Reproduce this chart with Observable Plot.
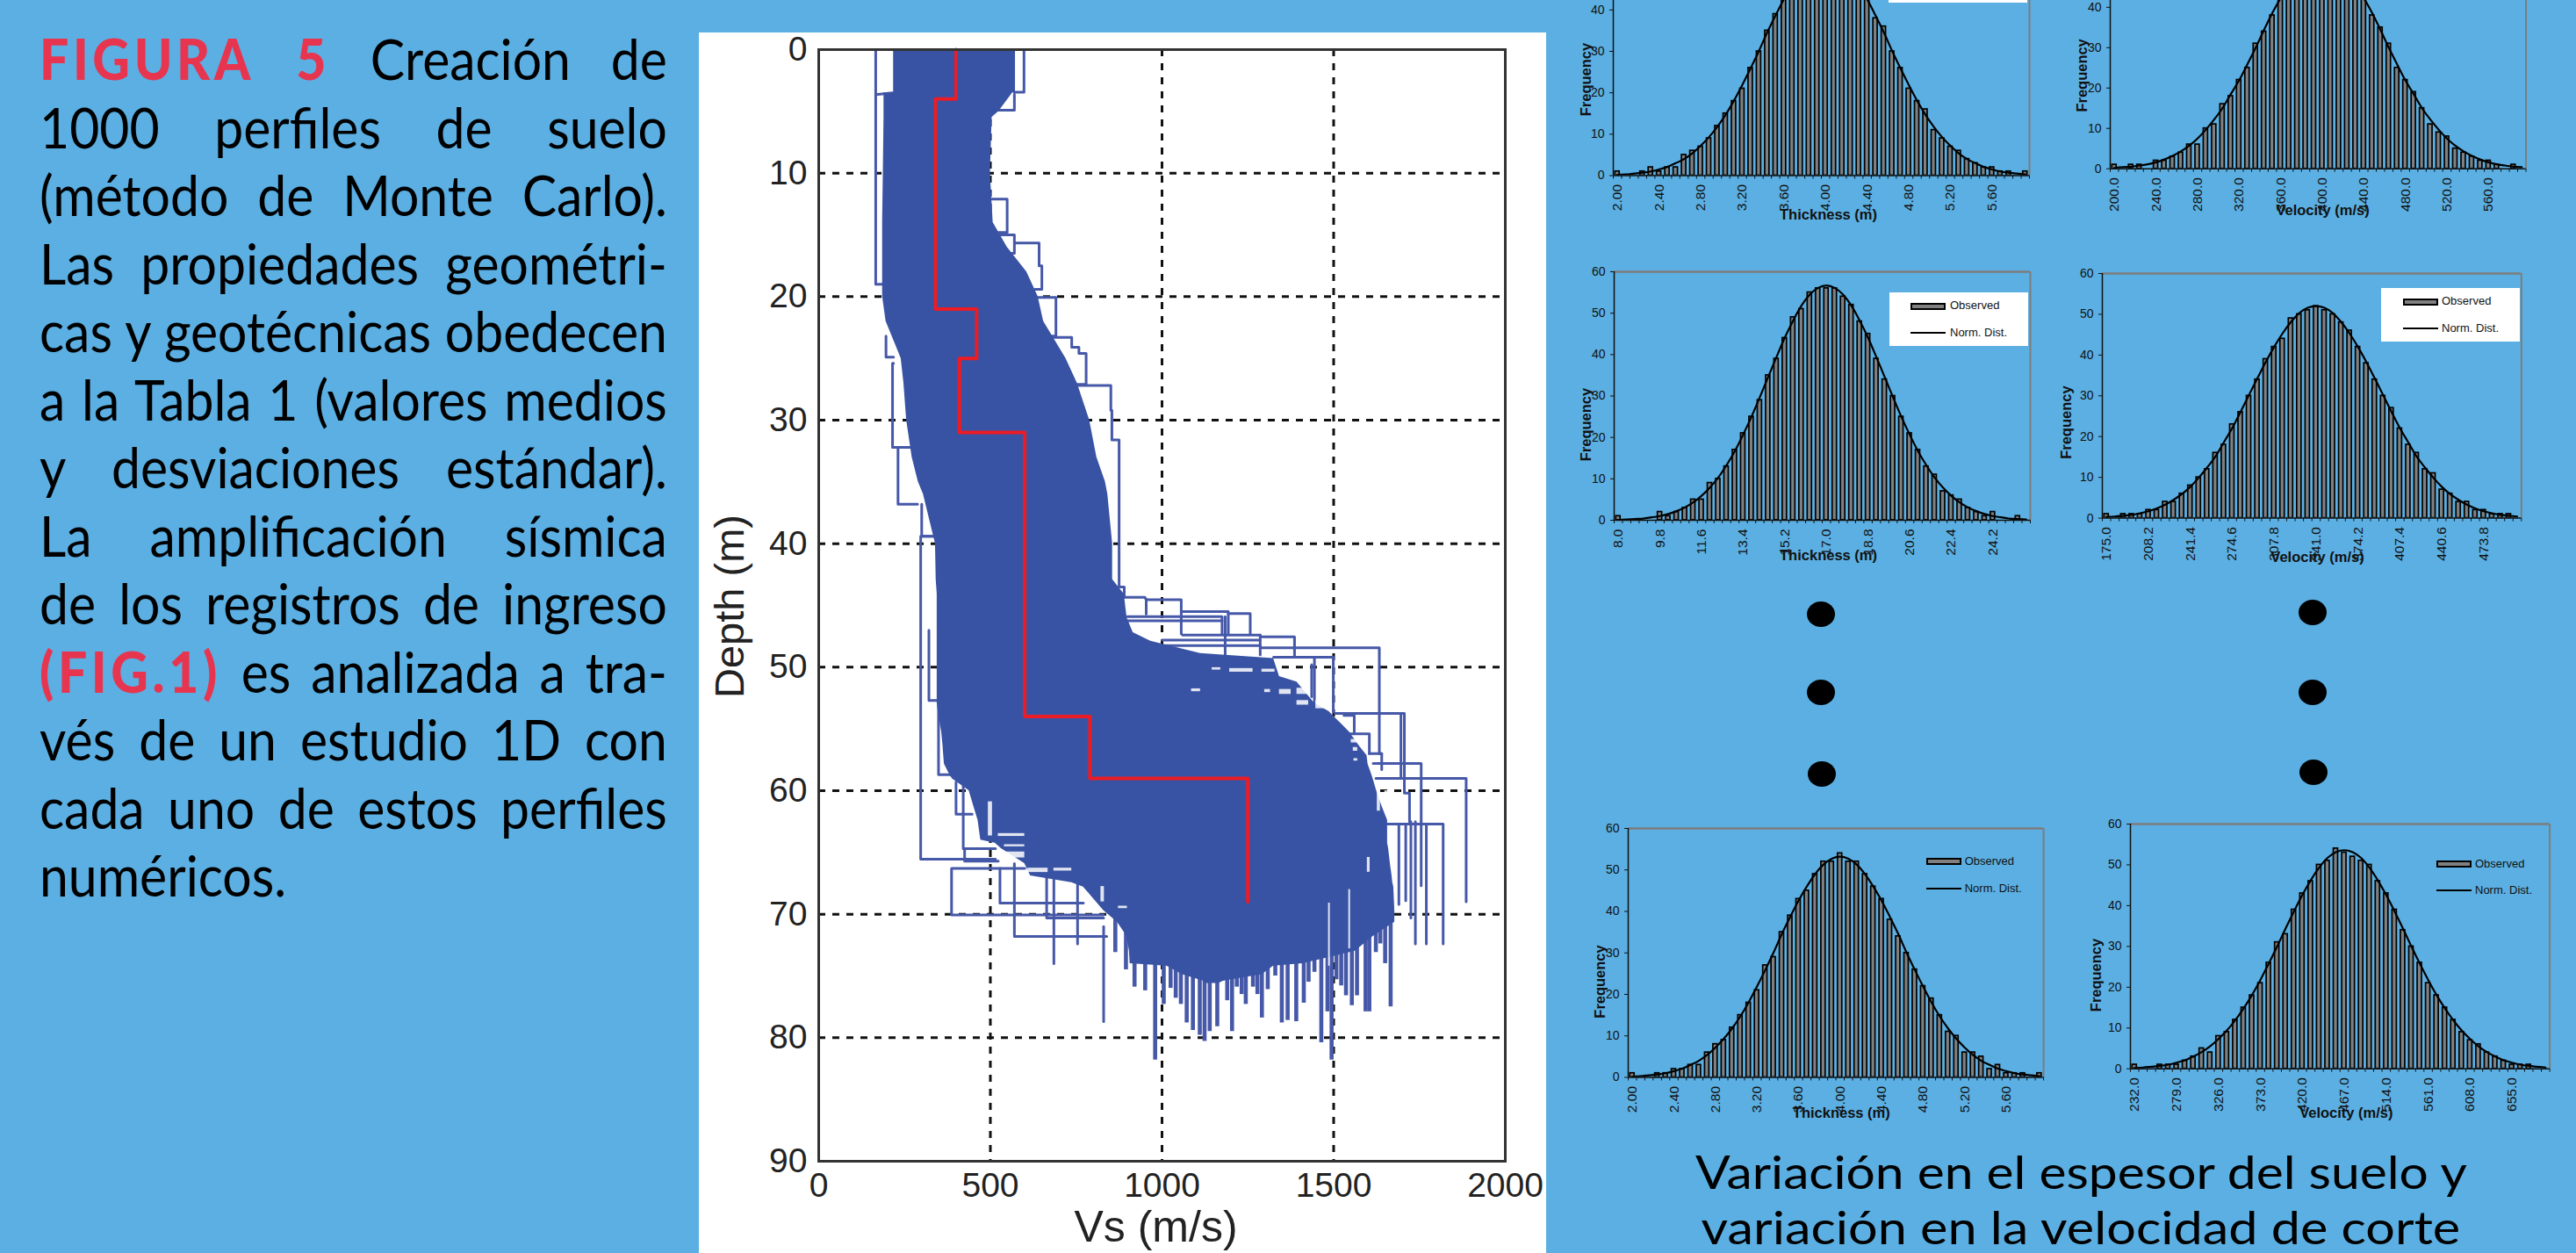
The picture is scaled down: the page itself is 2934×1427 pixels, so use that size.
<!DOCTYPE html>
<html lang="es"><head><meta charset="utf-8">
<script src="https://cdn.jsdelivr.net/npm/d3@7"></script>
<script src="https://cdn.jsdelivr.net/npm/@observablehq/plot@0.6"></script>
<style>
html,body{margin:0;padding:0;background:#5BAFE2;overflow:hidden}
#page{position:relative;width:2934px;height:1427px;background:#5BAFE2;overflow:hidden}
#page>*{position:absolute}
.ln{left:45px;width:777px;transform:scaleX(.92);transform-origin:0 0;font:64px/64px Lato,sans-serif;color:#000;white-space:nowrap;text-align:justify;text-align-last:justify}
.ln b{color:#E8354F;font-weight:900;letter-spacing:5px}
.ln.last{text-align-last:left}
.cap{left:1800px;width:1140px;text-align:center;font:53px/63px Lato,sans-serif;color:#000;white-space:nowrap}
.cap span{display:inline-block;transform-origin:50% 50%}
.dot{width:32px;height:29px;border-radius:50%;background:#000;margin:-15px 0 0 -16px}
.lgbox{background:#fff}
.sw{background:#808080;border:2px solid #000;box-sizing:border-box}
.nl{background:#000;height:2px}
.lt{font:13px/14px "Liberation Sans",Arial,sans-serif;color:#111;margin-top:-7px;white-space:nowrap}
</style></head><body><div id="page"></div>
<script>
// ---- Left column text
const captionLines = [
 '<b>FIGURA 5</b> Creación de','1000 perfiles de suelo','(método de Monte Carlo).','Las propiedades geométri-',
 'cas y geotécnicas obedecen','a la Tabla 1 (valores medios','y desviaciones estándar).','La amplificación sísmica',
 'de los registros de ingreso','<b>(FIG.1)</b> es analizada a tra-','vés de un estudio 1D con','cada uno de estos perfiles','numéricos.'];
const bottomCaption = ['Variación en el espesor del suelo y','variación en la velocidad de corte'];
const bottomCaptionWidth = [879,865];

// ---- Monte Carlo profile chart (Vs m/s vs depth m)
const envDepth = [0,3.5,3.5,5,5.5,10,14,16,18,20,22,25,27,30,33,35,36,40,42.9,44.1,46,47.2,47.9,48.9,49.3,50.75,51.2,52.9,53.6,55.25,56.4,57.15,57.85,58.8,59.05,60,61.2,62.4,64,64.25,64.7,65.9,66.9,67.45,67.8,69.7,70.65,71.8,73,74,74.2,74.9,75.4,75.6];
const envLeft  = [218,218,190,190,190,188,186,186,186,186,196,240,248,256,272,290,305,340,342,345,345,345,345,345,345,345,345,345,348,358,362,364,366,383,390,438,451,464,472,514,532,600,617,737,771,830,870,898,905,907,1014,1060,1120,1130];
const envRight = [573,573,565,525,505,500,508,549,606,639,655,720,753,789,810,835,842,856,856,890,898,916,967,1112,1325,1342,1393,1444,1487,1546,1575,1597,1600,1612,1615,1625,1640,1657,1657,1657,1660,1665,1670,1672,1675,1678,1678,1615,1563,1410,1325,1291,1180,1165];
const meanVs    = [400,400,340,340,460,460,410,410,600,600,790,790,1250,1250];
const meanDepth = [0,4,4,21,21,25,25,31,31,54,54,59,59,69];
const traceVs = [
 [166,166,190],[166,215],[598,598,570],[505,570,570],[505,549,549,515],[520,570,570,540],[574,642,642,650,650,630],
 [639,691,691,640],[639,737,737,758,758,779,779,700],[753,851,851,854,854,875,875,890,890],
 [890,950,954,1056,1056],[954,954],[1060,1193,1193],[1193,1257,1257],[899,1175,1175],[899,1175],[1060,1286],[1291,1386,1386],
 [1000,1286],[1000,1286],[1286,1286],[1184,1184],[1291,1633,1633,1640,1640],[1325,1499,1499],[1444,1444],[1436,1436],
 [1504,1706,1706,1721,1721],[1696,1696],[1546,1604,1604],[1604,1640],[1530,1560,1560],[1615,1755,1755],[1623,1886,1886],[1657,1819,1819],
 [1690,1690],[1710,1710],[1725,1725],[1738,1738],[1755,1755],[1770,1770],
 [340,297,297,515],[321,321,362],[349,349,383],[400,400,447],[421,421,515],[425,425,523],[600,387,387,830],[528,528,771],[570,570,839],
 [664,664,830],[685,685],[754,754],[830,830],[196,196,218],[218,215,215,267],[231,231,288],[300,300,340]];
const traceDepth = [
 [0,19,19],[3.65,3.5],[0,3.45,3.45],[4.9,4.9,3.6],[12.1,12.1,14.8,14.8],[15,15,16.5,16.5],[15.65,15.65,17.5,17.5,19.4,19.4],
 [20.06,20.06,23.2,23.2],[23.3,23.3,24.1,24.1,24.6,24.6,27.1,27.1],[27.2,27.2,29.2,29.2,31.6,31.6,43.5,43.5,44.35],
 [44.35,44.35,44.54,44.54,47.3],[44.5,45.7],[45.5,45.5,47.3],[45.66,45.66,47.3],[45.9,45.9,47.3],[46.25,46.25],[47.4,47.4],[47.55,47.55,49.14],
 [47.8,47.8],[48.25,48.25],[47.4,49],[45.9,49],[48.43,48.43,57,57,58.3],[49.2,49.2,53.6],[49.3,52.9],[49.8,52.4],
 [53.74,53.74,60.2,60.2,62.5],[53.8,59],[55.4,55.4,57],[57,57],[53.9,53.9,55.3],[57.8,57.8,62.5],[59,59,69],[62.7,62.7,72.4],
 [62.7,69.2],[62.7,68.9],[62.5,70.3],[62.5,72.4],[62.5,67.7],[62.7,72.4],
 [39.4,39.4,65.55,65.55],[47,52.7,52.7],[50,58.7,58.7],[59.3,61.9,61.9],[59,64.7,64.7],[64.7,65.7,65.7],[66.3,66.3,70.06,70.06],[66.3,69.1,69.1],[65.9,71.8,71.8],
 [67,70.3,70.3],[67,74],[67.5,72.4],[71,78.7],[23.2,24.9,24.9],[25.4,25.4,32.2,32.2],[32.2,36.8,36.8],[36.8,39.4,39.4]];
const spikeVs    = [864,895,920,951,980,1005,1025,1040,1055,1072,1090,1110,1124,1139,1161,1176,1190,1204,1218,1232,1244,1265,1278,1291,1308,1330,1349,1366,1391,1413,1427,1444,1464,1482,1494,1508,1522,1536,1553,1568,1593,1604,1623,1636,1650,1666];
const spikeDepth = [73.1,74.5,75.9,76.2,81.8,77.3,76,76.8,77.3,78.8,79.4,79.8,80.3,79.5,79.1,75.4,77,79.5,75.9,76.5,77.3,75.9,76.5,78.4,76.1,75,78.8,78.6,78.7,77.2,75.5,74.7,80.4,77.9,81.8,75.3,75.8,76.6,77.4,76.6,77.9,77.9,73.1,72.4,74,77.5];
// gaps between traces that stay white inside the dense band: [Vs from, Vs to, depth from, depth to]
const gapVs1 = [1146,1197,1291,1086,1299,1342,1393,1393,1448,1551,1557,1559,1627,1649,1598,494,523,541,536,609,685,775,822,873,1544,1485];
const gapVs2 = [1171,1265,1329,1112,1316,1376,1423,1427,1478,1576,1570,1570,1636,1657,1606,506,600,600,600,668,737,788,832,899,1549,1490];
const gapD1  = [50.04,50.11,50.16,51.75,51.8,51.8,51.7,52.7,52.7,55.85,56.5,57.4,59.5,60,65.4,60.9,63.47,64.37,64.96,66.27,66.27,68.3,67.76,69.35,68,69.1];
const gapD2  = [50.23,50.4,50.4,51.98,52.05,52.2,52.2,53.07,53.36,56.13,56.8,57.6,61.65,61.65,66.6,63.66,63.7,64.54,65.44,66.62,66.5,68.87,69,69.54,72.8,74.2];
const xTicks = [0,500,1000,1500,2000];
const yTicks = [0,10,20,30,40,50,60,70,80,90];

// ---- Histograms: observed counts and read normal curve per bin
const countsA = [1,0,0,1,2,1,2,2,5,6,7,9,12,15,18,21,26,30,35,39,43,45,48,50,52,53,52,51,49,46,43,38,36,30,26,21,18,16,11,9,7,6,4,3,2,2,1,1,0,1];
const curveA  = [.2,.3,.5,.7,1,1.5,2.1,3,4,5.4,7.2,9.3,11.8,14.7,18.1,21.9,25.9,30.1,34.6,38.7,42.6,46,49,51.3,52.7,53.2,52.7,51.3,49,46,42.6,38.7,34.6,30.1,25.9,21.9,18.1,14.7,11.8,9.3,7.2,5.4,4,3,2.1,1.5,1,.7,.5,.3];
const countsB = [1,0,1,1,0,2,2,3,4,6,6,10,11,16,18,22,25,31,34,38,42,45,47,49,51,52,51,50,48,45,42,38,35,31,25,22,19,15,11,9,8,5,4,3,2,2,1,0,1,0];
const curveB  = [.2,.4,.5,.8,1.1,1.6,2.3,3.2,4.3,5.7,7.5,9.7,12.2,15,18.5,21.9,25.9,30,34.4,38.6,42.3,45.7,48.5,50.7,52,52.5,52,50.7,48.5,45.7,42.3,38.6,34.4,30,25.9,21.9,18.5,15,12.2,9.7,7.5,5.7,4.3,3.2,2.3,1.6,1.1,.8,.5,.4];
const countsC = [1,0,0,0,0,2,1,2,3,5,5,9,10,13,17,21,25,29,35,39,44,49,51,55,56,56,56,54,52,48,45,39,34,30,25,21,17,13,11,7,6,5,3,2,1,2,0,0,1,0];
const curveC  = [.1,.2,.3,.4,.7,1,1.5,2.2,3.1,4.3,5.9,7.9,10.3,13.3,16.7,20.7,25,29.7,34.6,39.4,44.1,48.2,51.8,54.5,56.1,56.7,56.1,54.5,51.8,48.2,44.1,39.4,34.6,29.7,25,20.7,16.7,13.3,10.3,7.9,5.9,4.3,3.1,2.2,1.5,1,.7,.4,.3,.2];
const countsD = [1,0,1,1,1,2,2,4,4,6,8,10,12,16,18,23,26,30,34,39,42,44,49,50,51,52,51,50,48,46,42,38,34,30,27,22,18,16,12,11,7,6,4,4,2,2,1,1,1,0];
const curveD  = [.3,.4,.6,.8,1.2,1.7,2.4,3.3,4.5,5.9,7.7,9.9,12.4,15.1,18.6,22.1,26.1,30.2,34.3,38.3,42,45.3,48.1,50.3,51.6,52,51.6,50.3,48.1,45.3,42,38.3,34.3,30.2,26.1,22.1,18.6,15.1,12.4,9.9,7.7,5.9,4.5,3.3,2.4,1.7,1.2,.8,.6,.4];
const countsE = [1,0,0,1,1,2,2,3,3,6,8,9,12,15,18,21,27,29,35,39,43,45,49,52,52,54,52,52,49,46,43,38,34,30,26,22,19,15,11,10,6,6,5,2,3,1,1,1,0,1];
const countsF = [1,0,0,1,1,1,2,3,5,4,8,9,12,15,18,21,26,31,33,39,43,46,50,51,54,53,52,51,50,46,43,39,34,30,26,21,18,15,12,9,7,6,4,3,2,1,1,1,0,0];
const curveF  = [.2,.3,.5,.7,1,1.5,2.1,3,4.1,5.5,7.3,9.4,11.9,14.8,18.1,21.8,25.8,30,34.4,38.6,42.6,46.2,49.3,51.7,53.1,53.6,53.1,51.7,49.3,46.2,42.6,38.6,34.4,30,25.8,21.8,18.1,14.8,11.9,9.4,7.3,5.5,4.1,3,2.1,1.5,1,.7,.5,.3];
const labelsA = [2.0,2.4,2.8,3.2,3.6,4.0,4.4,4.8,5.2,5.6];
const labelsB = [200,240,280,320,360,400,440,480,520,560];
const labelsC = [8,9.8,11.6,13.4,15.2,17,18.8,20.6,22.4,24.2];
const labelsD = [175,208.2,241.4,274.6,307.8,341,374.2,407.4,440.6,473.8];
const labelsF = [232,279,326,373,420,467,514,561,608,655];
const freqTicks = [0,10,20,30,40,50,60];

const page = document.getElementById('page');
function add(cls, style, html){const d=document.createElement('div');d.className=cls;Object.assign(d.style,style);if(html!=null)d.innerHTML=html;page.appendChild(d);return d;}

// left text
captionLines.forEach((t,i)=>{add('ln'+(i===captionLines.length-1?' last':''),{top:(35+i*77.5)+'px'},t);});

// main plot panel
const FONT='"Liberation Sans",Arial,sans-serif';
const pl={left:796,top:37,width:965,height:1390,ml:136,mr:47,mt:19,mb:105};
const env=envDepth.map((d,i)=>({d,l:envLeft[i],r:envRight[i]}));
const traces=traceVs.flatMap((vs,k)=>vs.map((v,i)=>({k,v,d:traceDepth[k][i]})));
const spikes=spikeVs.map((v,i)=>({v,d:spikeDepth[i]}));
const gaps=gapVs1.map((v,i)=>({a:v,b:gapVs2[i],c:gapD1[i],e:gapD2[i]}));
const mean=meanVs.map((v,i)=>({v,d:meanDepth[i]}));
const main=Plot.plot({
  width:pl.width,height:pl.height,marginLeft:pl.ml,marginRight:pl.mr,marginTop:pl.mt,marginBottom:pl.mb,
  style:{background:'#fff',fontFamily:FONT,overflow:'visible'},
  x:{domain:[0,2000]},y:{domain:[0,90],reverse:true},
  marks:[
    Plot.ruleX(xTicks.slice(1,4),{stroke:'#111',strokeWidth:3,strokeDasharray:'8,8'}),
    Plot.ruleY(yTicks.slice(1,9),{stroke:'#111',strokeWidth:3,strokeDasharray:'8,8'}),
    Plot.axisX({ticks:xTicks,tickFormat:d3.format('d'),tickSize:0,tickPadding:13,fontSize:39,label:null,color:'#222'}),
    Plot.axisY({ticks:yTicks,tickSize:0,tickPadding:13,fontSize:39,label:null,color:'#222'}),
    Plot.ruleX(spikes,{x:'v',y1:70,y2:'d',stroke:'#4658A8',strokeWidth:4.6}),
    Plot.line(traces,{x:'v',y:'d',z:'k',stroke:'#4658A8',strokeWidth:3}),
    Plot.areaX(env,{x1:'l',x2:'r',y:'d',fill:'#3953A4'}),
    Plot.rect(gaps,{x1:'a',x2:'b',y1:'c',y2:'e',fill:'#fff',fillOpacity:.85}),
    Plot.line(mean,{x:'v',y:'d',stroke:'#ED1C24',strokeWidth:4}),
    Plot.frame({stroke:'#333',strokeWidth:3}),
    Plot.text(['Vs (m/s)'],{frameAnchor:'bottom',dx:-7,dy:75,fontSize:50,fill:'#222',lineAnchor:'middle'}),
    Plot.text(['Depth (m)'],{frameAnchor:'left',dx:-101,dy:1,fontSize:47,fill:'#222',rotate:-90,textAnchor:'middle',lineAnchor:'middle'})
  ]});
Object.assign(main.style,{position:'absolute',left:pl.left+'px',top:pl.top+'px'});
page.appendChild(main);

// histograms
function hist(o){
  const ml=70,mr=8,mb=70,mt=o.top<=0?0:10;
  const step=(o.labels[1]-o.labels[0])/5, x0=o.labels[0]-step/2;
  const fmt=d3.format(o.fmt);
  const rows=o.counts.map((c,i)=>({c,x:o.labels[0]+i*step,f:o.curve[i]}));
  const bounds=o.counts.map((c,i)=>x0+i*step).concat([x0+50*step]);
  const W=o.x2-o.x1+ml+mr, H=o.y0-o.top+mt+mb;
  const ymax=o.ymax;
  const p=Plot.plot({
    width:W,height:H,marginLeft:ml,marginRight:mr,marginTop:mt,marginBottom:mb,
    style:{background:'transparent',fontFamily:FONT,overflow:'visible'},
    x:{domain:[x0,x0+50*step]},y:{domain:[0,ymax]},
    marks:[
      Plot.rectY(rows,{x1:d=>d.x-step*.26,x2:d=>d.x+step*.26,y1:0,y2:'c',fill:'#808080',stroke:'#000',strokeWidth:1.7,clip:true}),
      Plot.line(rows,{x:'x',y:'f',stroke:'#000',strokeWidth:2.2,curve:'monotone-x',clip:true}),
      Plot.ruleX([x0+50*step],{stroke:'#7d7d7d',strokeWidth:2}),
      ...(ymax>=60?[Plot.ruleY([60],{stroke:'#7d7d7d',strokeWidth:2.5})]:[]),
      Plot.ruleX([x0],{stroke:'#111',strokeWidth:1.5}),
      Plot.ruleY([0],{stroke:'#111',strokeWidth:1.5}),
      Plot.axisX({ticks:bounds,tickFormat:()=>'',tickSize:4,stroke:'#111',label:null}),
      Plot.axisX({ticks:o.labels,tickFormat:fmt,tickSize:0,tickPadding:10,tickRotate:-90,fontSize:15.5,color:'#111',label:null}),
      Plot.axisY({ticks:freqTicks.filter(t=>t<=ymax),tickSize:4,tickPadding:6,fontSize:14,color:'#111',label:null}),
      Plot.text([o.title],{frameAnchor:'top-left',dx:o.tx-o.x1,dy:o.ty-o.top,textAnchor:'middle',lineAnchor:'middle',fontWeight:'bold',fontSize:16.5,fill:'#111'}),
      Plot.text(['Frequency'],{frameAnchor:'top-left',dx:o.fx-o.x1,dy:o.fy-o.top,textAnchor:'middle',lineAnchor:'middle',rotate:-90,fontWeight:'bold',fontSize:16.5,fill:'#111'})
    ]});
  Object.assign(p.style,{position:'absolute',left:(o.x1-ml)+'px',top:(o.top-mt)+'px'});
  page.appendChild(p);
}
hist({x1:1837,x2:2311,top:0,y0:199.5,ymax:42.3,labels:labelsA,fmt:'.2f',counts:countsA,curve:curveA,title:'Thickness (m)',tx:2082,ty:244,fx:1806.5,fy:90});
hist({x1:2402.5,x2:2876,top:0,y0:191.7,ymax:41.7,labels:labelsB,fmt:'.1f',counts:countsB,curve:curveB,title:'Velocity (m/s)',tx:2644.6,ty:239,fx:2371,fy:85.4});
hist({x1:1838,x2:2312,top:309,y0:592,ymax:60,labels:labelsC,fmt:'.1f',counts:countsC,curve:curveC,title:'Thickness (m)',tx:2082,ty:632,fx:1806,fy:483});
hist({x1:2393.7,x2:2871,top:311.4,y0:590,ymax:60,labels:labelsD,fmt:'.1f',counts:countsD,curve:curveD,title:'Velocity (m/s)',tx:2638.7,ty:634.4,fx:2353,fy:481});
hist({x1:1853.6,x2:2326.7,top:942.5,y0:1226,ymax:60,labels:labelsA,fmt:'.2f',counts:countsE,curve:curveA,title:'Thickness (m)',tx:2096.4,ty:1266.5,fx:1822,fy:1117});
hist({x1:2426,x2:2903.6,top:937.7,y0:1216.4,ymax:60,labels:labelsF,fmt:'.1f',counts:countsF,curve:curveF,title:'Velocity (m/s)',tx:2671.8,ty:1266.5,fx:2387,fy:1109.7});

// legends
function legend(o){
  if(o.box) add('lgbox',{left:o.box[0]+'px',top:o.box[1]+'px',width:(o.box[2]-o.box[0])+'px',height:(o.box[3]-o.box[1])+'px'});
  if(o.sw==null) return;
  add('sw',{left:o.sw+'px',top:o.sy+'px',width:'40px',height:'8px'});
  add('lt',{left:o.tx+'px',top:o.ty+'px'},'Observed');
  add('nl',{left:o.sw+'px',top:(o.ny-1)+'px',width:'40px'});
  add('lt',{left:o.tx+'px',top:o.ny+'px'},'Norm. Dist.');
}
legend({box:[2151,0,2309,3]});
legend({box:[2152,333,2310,394],sw:2176,sy:345,tx:2221,ty:348,ny:379});
legend({box:[2711.6,328,2870.5,389.4],sw:2736.6,sy:340,tx:2781,ty:343.4,ny:373.8});
legend({sw:2193.5,sy:977,tx:2237.7,ty:980.6,ny:1011.6});
legend({sw:2775,sy:980,tx:2819,ty:983.5,ny:1013.5});

// ellipsis dots
[[2074,700],[2074,789],[2075,882],[2634,698],[2634,789],[2635,880]].forEach(([x,y])=>add('dot',{left:x+'px',top:y+'px'}));

// caption
bottomCaption.forEach((t,i)=>{
  const d=add('cap',{top:(1302+i*63)+'px'},'<span>'+t+'</span>');
  const s=d.firstChild; s.style.transform='scaleX('+(bottomCaptionWidth[i]/s.offsetWidth)+')';
});
</script></body></html>
